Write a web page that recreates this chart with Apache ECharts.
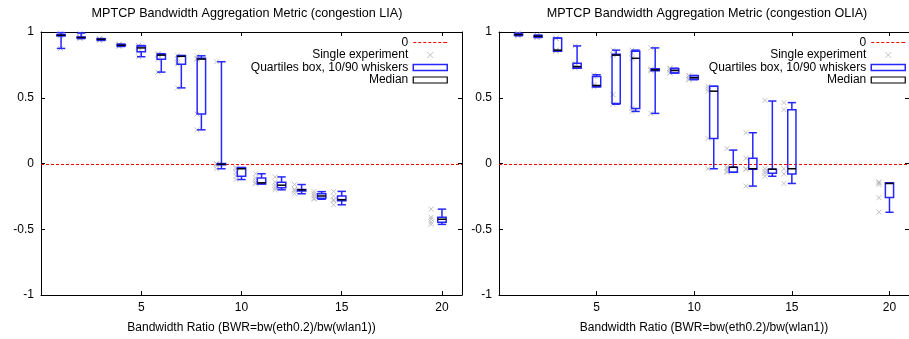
<!DOCTYPE html>
<html>
<head>
<meta charset="utf-8">
<script src="https://cdn.jsdelivr.net/npm/echarts@6/dist/echarts.min.js"></script>
<style>
html,body{margin:0;padding:0;background:#fff;}
#chart{width:909px;height:339px;}
</style>
</head>
<body>
<div id="chart"></div>
<script>
// ---- data ----
const BWR = [1, 2, 3, 4, 5, 6, 7, 8, 9, 10, 11, 12, 13, 14, 15, 20];
const X_TICKS = [5, 10, 15, 20];
const Y_TICKS = [-1, -0.5, 0, 0.5, 1];
const REFERENCE_LEVEL = 0;

const TITLE_LIA = 'MPTCP Bandwidth Aggregation Metric (congestion LIA)';
const TITLE_OLIA = 'MPTCP Bandwidth Aggregation Metric (congestion OLIA)';
const X_NAME = 'Bandwidth Ratio (BWR=bw(eth0.2)/bw(wlan1))';
const LEGEND_NAMES = ['0', 'Single experiment', 'Quartiles box, 10/90 whiskers', 'Median'];

// LIA: 10th percentile, quartiles, median, 90th percentile
const LIA_P10 = [0.875, 0.950, 0.936, 0.890, 0.812, 0.695, 0.575, 0.256, -0.040, -0.122, -0.155, -0.200, -0.230, -0.272, -0.314, -0.463];
const LIA_Q1  = [0.970, 0.955, 0.940, 0.895, 0.849, 0.792, 0.755, 0.376, -0.010, -0.097, -0.155, -0.185, -0.210, -0.265, -0.284, -0.446];
const LIA_MED = [0.975, 0.958, 0.944, 0.899, 0.879, 0.824, 0.815, 0.794, -0.005, -0.040, -0.147, -0.165, -0.200, -0.247, -0.275, -0.424];
const LIA_Q3  = [0.980, 0.962, 0.948, 0.904, 0.894, 0.830, 0.819, 0.800, 0.000, -0.035, -0.110, -0.142, -0.197, -0.230, -0.247, -0.409];
const LIA_P90 = [0.995, 0.992, 0.950, 0.908, 0.897, 0.835, 0.822, 0.819, 0.774, -0.030, -0.078, -0.102, -0.160, -0.214, -0.212, -0.347];
const LIA_POINTS = [
  [0.99, 0.98, 0.975, 0.97, 0.875],
  [0.99, 0.962, 0.958, 0.955, 0.95],
  [0.95, 0.948, 0.944, 0.94, 0.936],
  [0.908, 0.904, 0.899, 0.895, 0.89],
  [0.897, 0.894, 0.879, 0.849, 0.812],
  [0.835, 0.83, 0.824, 0.792, 0.695],
  [0.822, 0.80, 0.77, 0.755, 0.575],
  [0.819, 0.80, 0.794, 0.376, 0.256],
  [0.774, 0.0, -0.005, -0.02, -0.04],
  [-0.03, -0.04, -0.07, -0.097, -0.122],
  [-0.078, -0.11, -0.13, -0.147, -0.155],
  [-0.102, -0.142, -0.165, -0.185, -0.2],
  [-0.16, -0.197, -0.2, -0.21, -0.23],
  [-0.214, -0.23, -0.247, -0.265, -0.272],
  [-0.212, -0.247, -0.275, -0.284, -0.314],
  [-0.347, -0.409, -0.424, -0.446, -0.463]
];

// OLIA
const OLIA_P10 = [0.972, 0.958, 0.854, 0.725, 0.583, 0.451, 0.396, 0.381, 0.688, 0.637, -0.040, -0.067, -0.172, -0.097, -0.152, -0.371];
const OLIA_Q1  = [0.974, 0.961, 0.854, 0.725, 0.583, 0.456, 0.419, 0.705, 0.688, 0.640, 0.190, -0.067, -0.043, -0.075, -0.080, -0.259];
const OLIA_MED = [0.980, 0.968, 0.862, 0.737, 0.593, 0.824, 0.800, 0.712, 0.707, 0.652, 0.550, -0.028, -0.040, -0.043, -0.040, -0.152];
const OLIA_Q3  = [0.984, 0.974, 0.954, 0.762, 0.662, 0.830, 0.854, 0.720, 0.720, 0.667, 0.587, -0.028, 0.040, -0.043, 0.408, -0.147];
const OLIA_P90 = [0.990, 0.976, 0.954, 0.894, 0.675, 0.862, 0.862, 0.879, 0.725, 0.670, 0.587, 0.102, 0.234, 0.475, 0.463, -0.147];
const OLIA_POINTS = [
  [0.99, 0.984, 0.98, 0.974, 0.972],
  [0.976, 0.974, 0.968, 0.961, 0.958],
  [0.954, 0.95, 0.862, 0.856, 0.854],
  [0.894, 0.762, 0.74, 0.737, 0.725],
  [0.675, 0.662, 0.6, 0.593, 0.583],
  [0.862, 0.83, 0.824, 0.524, 0.451],
  [0.862, 0.84, 0.8, 0.419, 0.396],
  [0.879, 0.72, 0.712, 0.705, 0.381],
  [0.725, 0.72, 0.707, 0.69, 0.688],
  [0.67, 0.667, 0.652, 0.64, 0.637],
  [0.587, 0.57, 0.55, 0.19, -0.04],
  [0.114, -0.028, -0.04, -0.06, -0.067],
  [0.234, 0.04, -0.04, -0.045, -0.172],
  [0.48, -0.04, -0.06, -0.075, -0.097],
  [0.463, 0.41, -0.04, -0.08, -0.152],
  [-0.14, -0.147, -0.16, -0.26, -0.37]
];

// ---- style constants ----
const FONT = 'Liberation Sans, Arial, sans-serif';
const BLUE = '#2626ff';
const GREY = '#b4b4b4';
const RED = '#ff0000';
const BOX_W = 0.42;          // box width in x units
const POINT_SHIFT = 0.973;   // single experiments are drawn slightly left of their box (x * factor)
const X_MIN = 0, X_MAX = 21;
const CROSS = 'path://M0,0L10,10M10,0L0,10';
const DASH_ICON = 'path://M0,0h3v1h-3zM5,0h3v1h-3zM10,0h3v1h-3zM15,0h3v1h-3zM20,0h3v1h-3zM25,0h3v1h-3zM30,0h3v1h-3zM33,0h1v1h-1z';

function boxData(p10, q1, med, q3, p90) {
  return BWR.map((x, i) => [x, p10[i], q1[i], med[i], q3[i], p90[i]]);
}
function pointData(points) {
  const out = [];
  BWR.forEach((x, i) => points[i].forEach(v => out.push([x * POINT_SHIFT, v])));
  return out;
}

function renderBox(params, api) {
  const x = api.value(0);
  const lo = api.coord([x, api.value(1)]);
  const q1 = api.coord([x, api.value(2)]);
  const q3 = api.coord([x, api.value(4)]);
  const hi = api.coord([x, api.value(5)]);
  const half = api.size([BOX_W, 0])[0] / 2;
  const cx = lo[0];
  const st = { stroke: BLUE, fill: null, lineWidth: 1.5 };
  return {
    type: 'group',
    children: [
      { type: 'line', shape: { x1: cx, y1: q3[1], x2: cx, y2: hi[1] }, style: st },
      { type: 'line', shape: { x1: cx, y1: q1[1], x2: cx, y2: lo[1] }, style: st },
      { type: 'line', shape: { x1: cx - half, y1: hi[1], x2: cx + half, y2: hi[1] }, style: st },
      { type: 'line', shape: { x1: cx - half, y1: lo[1], x2: cx + half, y2: lo[1] }, style: st },
      { type: 'rect', shape: { x: cx - half, y: q3[1], width: 2 * half, height: q1[1] - q3[1] }, style: st }
    ]
  };
}
function renderMedian(params, api) {
  const x = api.value(0);
  const m = api.coord([x, api.value(3)]);
  const half = api.size([BOX_W, 0])[0] / 2;
  return { type: 'line', shape: { x1: m[0] - half, y1: m[1], x2: m[0] + half, y2: m[1] },
           style: { stroke: '#000', lineWidth: 1.5 } };
}
function renderRefLine(params, api) {
  const a = api.coord([api.value(0), api.value(2)]);
  const b = api.coord([api.value(1), api.value(2)]);
  return { type: 'line', shape: { x1: a[0], y1: Math.round(a[1]) + 0.5, x2: b[0], y2: Math.round(b[1]) + 0.5 },
           style: { stroke: RED, lineWidth: 1, lineDash: [3, 2] } };
}

const GRID_LEFTS = [41, 499];
const GRID_W = 421;

function axisPair(gi) {
  const common = {
    type: 'value', gridIndex: gi, min: X_MIN, max: X_MAX, interval: 5,
    splitLine: { show: false },
    axisLine: { show: true, onZero: false, lineStyle: { color: '#000', width: 1 } },
    axisTick: { show: true, inside: true, length: 4, lineStyle: { color: '#000' } }
  };
  return [
    Object.assign({}, common, {
      position: 'bottom',
      name: X_NAME, nameLocation: 'middle', nameGap: 27,
      nameTextStyle: { fontFamily: FONT, fontSize: 12, color: '#000' },
      axisLabel: { show: true, margin: 7, fontFamily: FONT, fontSize: 12, color: '#000',
        showMinLabel: false, showMaxLabel: false,
        formatter: v => (X_TICKS.indexOf(v) >= 0 ? String(v) : '') }
    }),
    Object.assign({}, common, { position: 'top', axisLabel: { show: false } })
  ];
}
function yPair(gi) {
  const common = {
    type: 'value', gridIndex: gi, min: -1, max: 1, interval: 0.5,
    splitLine: { show: false },
    axisLine: { show: true, onZero: false, lineStyle: { color: '#000', width: 1 } },
    axisTick: { show: true, inside: true, length: 4, lineStyle: { color: '#000' } }
  };
  return [
    Object.assign({}, common, {
      position: 'left',
      axisLabel: { show: true, margin: 7, fontFamily: FONT, fontSize: 12, color: '#000',
        formatter: v => (Y_TICKS.indexOf(v) >= 0 ? String(v) : '') }
    }),
    Object.assign({}, common, { position: 'right', axisLabel: { show: false } })
  ];
}

function panelSeries(gi, boxes, points) {
  const xi = gi * 2, yi = gi * 2;
  return [
    { name: LEGEND_NAMES[1], type: 'scatter', xAxisIndex: xi, yAxisIndex: yi, z: 1,
      symbol: CROSS, symbolSize: 5, color: GREY,
      itemStyle: { color: 'none', borderColor: GREY, borderWidth: 1 },
      data: pointData(points), silent: true },
    { name: LEGEND_NAMES[0], type: 'custom', xAxisIndex: xi, yAxisIndex: yi, z: 2, color: RED,
      renderItem: renderRefLine, encode: { x: [0, 1], y: 2 },
      data: [[X_MIN, X_MAX, REFERENCE_LEVEL]], silent: true },
    { name: LEGEND_NAMES[2], type: 'custom', xAxisIndex: xi, yAxisIndex: yi, z: 3, color: BLUE,
      renderItem: renderBox, encode: { x: 0, y: [1, 2, 3, 4, 5] }, data: boxes,
      itemStyle: { color: BLUE }, silent: true },
    { name: LEGEND_NAMES[3], type: 'custom', xAxisIndex: xi, yAxisIndex: yi, z: 4, color: '#000',
      renderItem: renderMedian, encode: { x: 0, y: [3] }, data: boxes,
      itemStyle: { color: '#000' }, silent: true }
  ];
}

function legendFor(rightPx) {
  return {
    orient: 'vertical', right: rightPx, top: 36.5, padding: 0, itemGap: 0.5,
    itemWidth: 34, itemHeight: 6, align: 'right', selectedMode: false,
    textStyle: { fontFamily: FONT, fontSize: 12, color: '#000' },
    data: [
      { name: LEGEND_NAMES[0], icon: DASH_ICON, itemStyle: { color: RED, borderWidth: 0 } },
      { name: LEGEND_NAMES[1], icon: CROSS, itemStyle: { color: 'none', borderColor: GREY, borderWidth: 1 } },
      { name: LEGEND_NAMES[2], icon: 'rect', itemStyle: { color: '#fff', borderColor: BLUE, borderWidth: 1.5 } },
      { name: LEGEND_NAMES[3], icon: 'rect', itemStyle: { color: '#fff', borderColor: '#000', borderWidth: 1.2 } }
    ]
  };
}

const TITLE_STYLE = { fontFamily: FONT, fontSize: 12.6, fontWeight: 'normal', color: '#000' };

const option = {
  animation: false,
  backgroundColor: '#fff',
  title: [
    { text: TITLE_LIA, left: 247, top: 14, padding: 0, textAlign: 'center', textVerticalAlign: 'middle', textStyle: TITLE_STYLE },
    { text: TITLE_OLIA, left: 707, top: 14, padding: 0, textAlign: 'center', textVerticalAlign: 'middle', textStyle: TITLE_STYLE }
  ],
  legend: [legendFor(909 - 448), legendFor(3)],
  grid: GRID_LEFTS.map(l => ({ left: l, top: 32, width: GRID_W, height: 267, containLabel: false })),
  xAxis: axisPair(0).concat(axisPair(1)),
  yAxis: yPair(0).concat(yPair(1)),
  series: panelSeries(0, boxData(LIA_P10, LIA_Q1, LIA_MED, LIA_Q3, LIA_P90), LIA_POINTS)
    .concat(panelSeries(1, boxData(OLIA_P10, OLIA_Q1, OLIA_MED, OLIA_Q3, OLIA_P90), OLIA_POINTS))
};

const chart = echarts.init(document.getElementById('chart'), null, { renderer: 'canvas' });
chart.setOption(option);
</script>
</body>
</html>
